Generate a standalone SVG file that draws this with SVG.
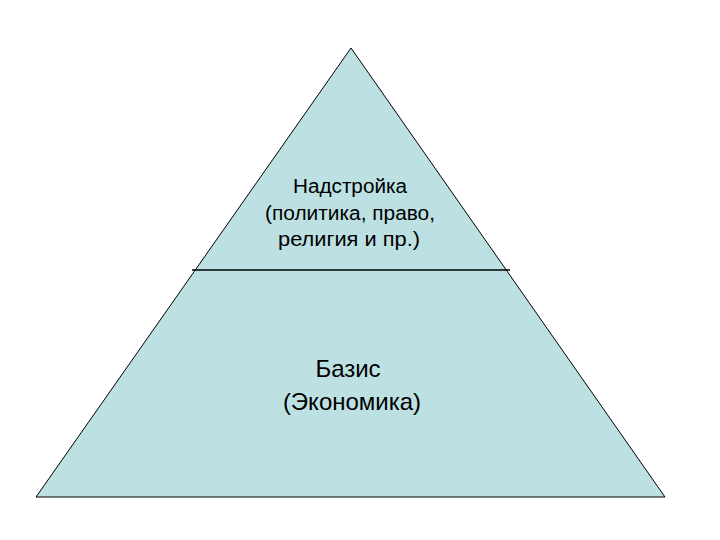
<svg xmlns="http://www.w3.org/2000/svg" width="720" height="540" viewBox="0 0 720 540">
<style>
.shape{fill:#bde0e3;stroke:#000;stroke-width:1}
.t{font-family:"Liberation Sans",Arial,sans-serif;fill:#000;text-anchor:middle}
.s{font-size:20px}
.b{font-size:24px}
</style>
<rect width="720" height="540" fill="#fff"/>
<g id="pyramid">
<polygon class="shape" points="351,48 665,497 36,497"/>
</g>
<g id="connectors">
<line x1="192" y1="270" x2="510" y2="270" stroke="#000" stroke-width="1.3"/>
</g>
<g id="superstructure">
<text class="t s" x="350" y="193" textLength="114" lengthAdjust="spacingAndGlyphs">Надстройка</text>
<text class="t s" x="350" y="220" textLength="170" lengthAdjust="spacingAndGlyphs">(политика, право,</text>
<text class="t s" x="349" y="246" textLength="142" lengthAdjust="spacingAndGlyphs">религия и пр.)</text>
</g>
<g id="basis">
<text class="t b" x="348" y="377">Базис</text>
<text class="t b" x="352" y="410">(Экономика)</text>
</g>
</svg>
